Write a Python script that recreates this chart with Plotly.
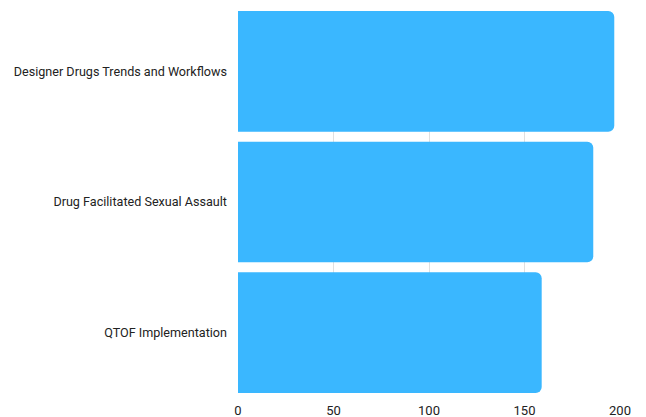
import plotly.graph_objects as go

categories = ["Designer Drugs Trends and Workflows", "Drug Facilitated Sexual Assault", "QTOF Implementation"]
values = [197, 186, 159]
tick_vals = [0, 50, 100, 150, 200]

bar_w = 0.924

fig = go.Figure(go.Bar(
    x=values,
    y=categories,
    orientation="h",
    marker=dict(color="#3AB7FF", line=dict(width=0)),
    width=bar_w,
    hoverinfo="x+y",
))

# page body has an 8px default margin, so the figure is offset by 8px
fig.update_layout(
    width=638,
    height=409,
    margin=dict(l=230, r=26, t=3, b=24),
    paper_bgcolor="white",
    plot_bgcolor="white",
    font=dict(family="Roboto", size=13, color="#222222"),
    barcornerradius=6,
    showlegend=False,
    xaxis=dict(
        range=[0, 200],
        tickvals=tick_vals,
        showgrid=True,
        gridcolor="#e0e0e0",
        gridwidth=1,
        zeroline=False,
        showline=False,
        ticks="",
        tickfont=dict(size=13),
        ticklabelstandoff=8,
        automargin=False,
    ),
    yaxis=dict(
        range=[2 + bar_w / 2, -bar_w / 2],
        showgrid=False,
        zeroline=False,
        showline=False,
        ticks="",
        tickfont=dict(size=12.6),
        ticklabelstandoff=10,
        automargin=False,
    ),
)

fig.write_html("out.html")
